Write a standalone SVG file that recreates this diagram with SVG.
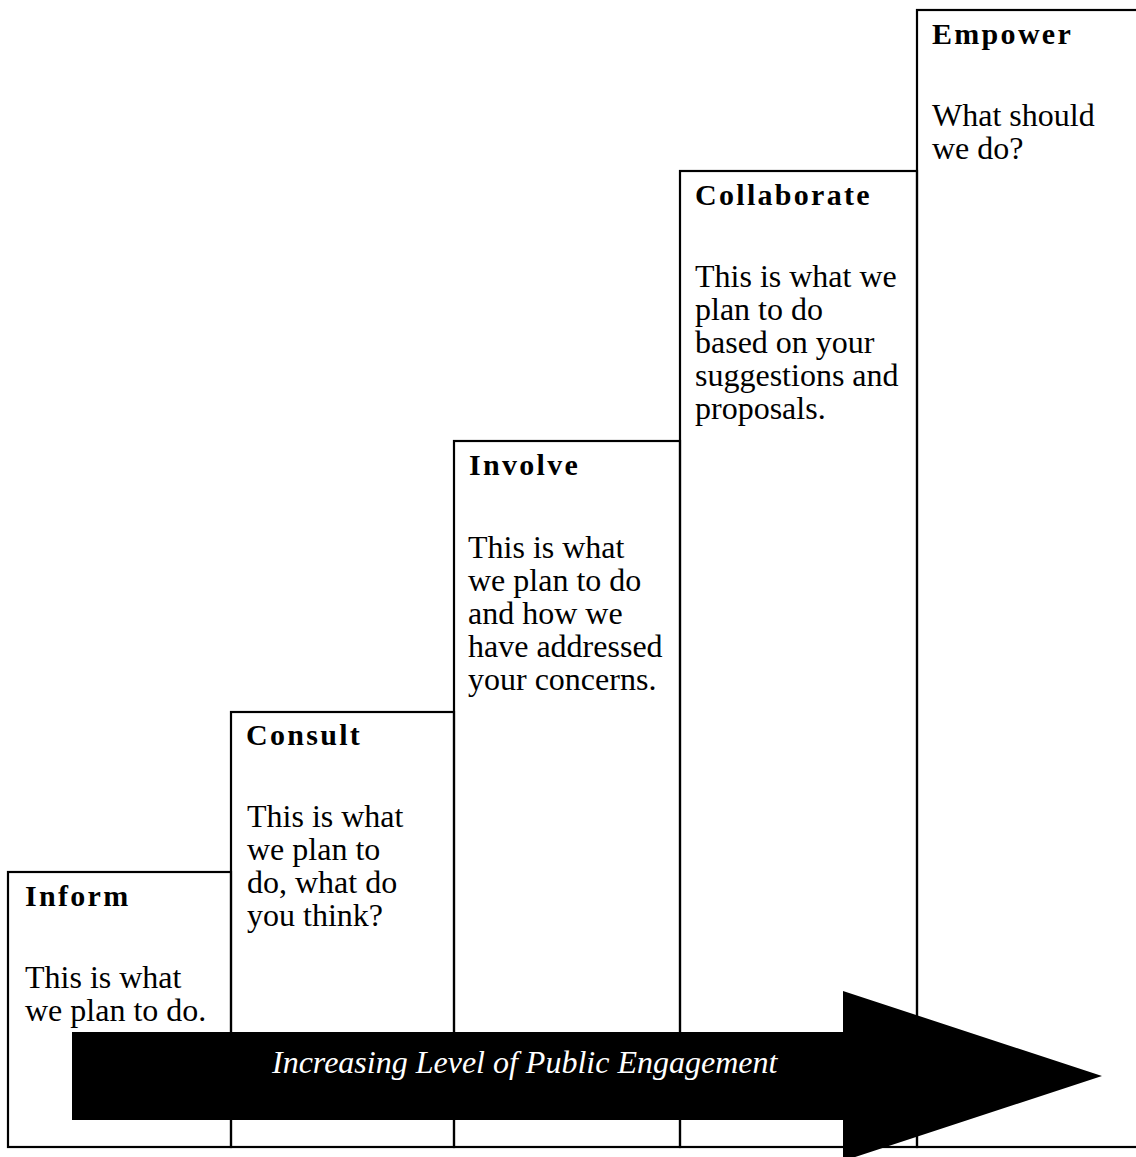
<svg xmlns="http://www.w3.org/2000/svg" width="1136" height="1157" viewBox="0 0 1136 1157">
<style>
.box{fill:none;stroke:#000;stroke-width:2.2}
.h{font-family:"Liberation Serif","Times New Roman",serif;font-weight:bold;font-size:30px;letter-spacing:2.3px;fill:#000}
.b{font-family:"Liberation Serif","Times New Roman",serif;font-size:32px;fill:#000}
.a{font-family:"Liberation Serif","Times New Roman",serif;font-style:italic;font-size:32px;fill:#fff}
</style>
<rect width="1136" height="1157" fill="#fff"/>
<g id="inform">
<rect class="box" x="8" y="872" width="223" height="275"/>
<text class="h" x="25" y="906">Inform</text>
<text class="b" x="25" y="988">This is what</text>
<text class="b" x="25" y="1021">we plan to do.</text>
</g>
<g id="consult">
<rect class="box" x="231" y="712" width="223" height="435"/>
<text class="h" x="246" y="745">Consult</text>
<text class="b" x="247" y="827">This is what</text>
<text class="b" x="247" y="860">we plan to</text>
<text class="b" x="247" y="893">do, what do</text>
<text class="b" x="247" y="926">you think?</text>
</g>
<g id="involve">
<rect class="box" x="454" y="441" width="226" height="706"/>
<text class="h" x="469" y="475">Involve</text>
<text class="b" x="468" y="558">This is what</text>
<text class="b" x="468" y="591">we plan to do</text>
<text class="b" x="468" y="624">and how we</text>
<text class="b" x="468" y="657">have addressed</text>
<text class="b" x="468" y="690">your concerns.</text>
</g>
<g id="collaborate">
<rect class="box" x="680" y="171" width="237" height="976"/>
<text class="h" x="695" y="205">Collaborate</text>
<text class="b" x="695" y="287">This is what we</text>
<text class="b" x="695" y="320">plan to do</text>
<text class="b" x="695" y="353">based on your</text>
<text class="b" x="695" y="386">suggestions and</text>
<text class="b" x="695" y="419">proposals.</text>
</g>
<g id="empower">
<rect class="box" x="917" y="10" width="240" height="1137"/>
<text class="h" x="932" y="44">Empower</text>
<text class="b" x="932" y="126">What should</text>
<text class="b" x="932" y="159">we do?</text>
</g>
<g id="connectors">
<polygon points="72,1032 843,1032 843,991 1102,1076 843,1161 843,1120 72,1120" fill="#000"/>
<text class="a" x="272" y="1073">Increasing Level of Public Engagement</text>
</g>
</svg>
